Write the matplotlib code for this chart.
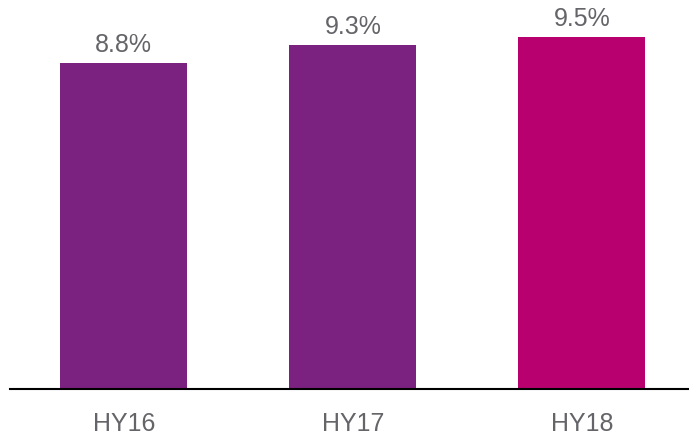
import matplotlib
matplotlib.use("Agg")
from matplotlib import pyplot as plt

categories = ["HY16", "HY17", "HY18"]
values = [8.8, 9.3, 9.5]
labels = ["8.8%", "9.3%", "9.5%"]
colors = ["#7B217F", "#7B217F", "#B9006F"]


def main() -> None:
    plt.rcParams["font.family"] = ["Liberation Sans", "DejaVu Sans"]
    fig = plt.figure(figsize=(6.89, 4.35), dpi=100)
    ax = fig.add_axes([10 / 689, 1 - 390 / 435, 679 / 689, 390 / 435])

    x = list(range(len(categories)))
    bars = ax.bar(x, values, width=0.555, color=colors)

    for bar, text in zip(bars, labels):
        ax.annotate(
            text,
            xy=(bar.get_x() + bar.get_width() / 2, bar.get_height()),
            xytext=(0, 5),
            textcoords="offset points",
            ha="center",
            va="bottom",
            fontsize=18,
            color="#646469",
        )

    ax.set_xlim(-0.497, 2.468)
    ax.set_ylim(0, 10.53)
    ax.set_xticks(x)
    ax.set_xticklabels(categories, fontsize=18, color="#646469")
    ax.tick_params(axis="x", length=0, pad=16)
    ax.set_yticks([])
    for side in ["top", "right", "left"]:
        ax.spines[side].set_visible(False)
    ax.spines["bottom"].set_linewidth(1.5)
    ax.spines["bottom"].set_color("black")

    fig.savefig("out.png", dpi=100)


if __name__ == "__main__":
    main()
